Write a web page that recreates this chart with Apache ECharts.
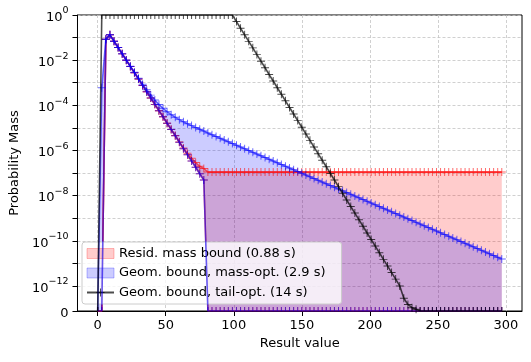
<!DOCTYPE html>
<html>
<head>
<meta charset="utf-8">
<script src="https://cdn.jsdelivr.net/npm/echarts@6/dist/echarts.min.js"></script>
<style>
  html, body { margin: 0; padding: 0; background: #fff; }
  #chart { width: 531px; height: 362px; }
</style>
</head>
<body>
<div id="chart"></div>
<script>
// result values (x), one point every 3 units
const resultValues = [0, 3, 6, 9, 12, 15, 18, 21, 24, 27, 30, 33, 36, 39, 42, 45, 48, 51, 54, 57,
  60, 63, 66, 69, 72, 75, 78, 81, 84, 87, 90, 93, 96, 99, 102, 105, 108, 111, 114, 117,
  120, 123, 126, 129, 132, 135, 138, 141, 144, 147, 150, 153, 156, 159, 162, 165, 168, 171, 174, 177,
  180, 183, 186, 189, 192, 195, 198, 201, 204, 207, 210, 213, 216, 219, 222, 225, 228, 231, 234, 237,
  240, 243, 246, 249, 252, 255, 258, 261, 264, 267, 270, 273, 276, 279, 282, 285, 288, 291, 294, 297]

// shared lower bound of both bounds
const lowerBound = [0, 0, 0.084, 0.132, 0.069, 0.036, 0.019, 0.0100, 0.0052, 0.00275,
  0.00145, 7.6e-4, 4.0e-4, 2.1e-4, 1.1e-4, 5.8e-5, 3.1e-5, 1.6e-5, 8.5e-6, 4.5e-6,
  2.3e-6, 1.2e-6, 6.4e-7, 3.4e-7, 1.8e-7, 9.3e-8, 4.9e-8, 0, 0, 0,
  0, 0, 0, 0, 0, 0, 0, 0, 0, 0,
  0, 0, 0, 0, 0, 0, 0, 0, 0, 0,
  0, 0, 0, 0, 0, 0, 0, 0, 0, 0,
  0, 0, 0, 0, 0, 0, 0, 0, 0, 0,
  0, 0, 0, 0, 0, 0, 0, 0, 0, 0,
  0, 0, 0, 0, 0, 0, 0, 0, 0, 0,
  0, 0, 0, 0, 0, 0, 0, 0, 0, 0]

// Resid. mass bound, upper
const residUpper = [0, 0, 0.084, 0.132, 0.069, 0.036, 0.019, 0.0100, 0.0052, 0.00275,
  0.00145, 7.6e-4, 4.0e-4, 2.1e-4, 1.1e-4, 5.8e-5, 3.1e-5, 1.6e-5, 8.6e-6, 4.6e-6,
  2.4e-6, 1.3e-6, 7.5e-7, 4.5e-7, 2.9e-7, 2.0e-7, 1.6e-7, 1.1e-7, 1.1e-7, 1.1e-7,
  1.1e-7, 1.1e-7, 1.1e-7, 1.1e-7, 1.1e-7, 1.1e-7, 1.1e-7, 1.1e-7, 1.1e-7, 1.1e-7,
  1.1e-7, 1.1e-7, 1.1e-7, 1.1e-7, 1.1e-7, 1.1e-7, 1.1e-7, 1.1e-7, 1.1e-7, 1.1e-7,
  1.1e-7, 1.1e-7, 1.1e-7, 1.1e-7, 1.1e-7, 1.1e-7, 1.1e-7, 1.1e-7, 1.1e-7, 1.1e-7,
  1.1e-7, 1.1e-7, 1.1e-7, 1.1e-7, 1.1e-7, 1.1e-7, 1.1e-7, 1.1e-7, 1.1e-7, 1.1e-7,
  1.1e-7, 1.1e-7, 1.1e-7, 1.1e-7, 1.1e-7, 1.1e-7, 1.1e-7, 1.1e-7, 1.1e-7, 1.1e-7,
  1.1e-7, 1.1e-7, 1.1e-7, 1.1e-7, 1.1e-7, 1.1e-7, 1.1e-7, 1.1e-7, 1.1e-7, 1.1e-7,
  1.1e-7, 1.1e-7, 1.1e-7, 1.1e-7, 1.1e-7, 1.1e-7, 1.1e-7, 1.1e-7, 1.1e-7, 1.1e-7]

// Geom. bound, mass-opt., upper
const massOptUpper = [0, 6e-4, 0.085, 0.1325, 0.0694, 0.0363, 0.0193, 0.0102, 5.4e-3, 2.9e-3,
  1.58e-3, 8.6e-4, 4.9e-4, 2.83e-4, 1.71e-4, 1.09e-4, 7.4e-5, 5.2e-5, 3.84e-5, 2.95e-5,
  2.32e-5, 1.87e-5, 1.53e-5, 1.26e-5, 1.04e-5, 8.65e-6, 7.2e-6, 5.98e-6, 5.0e-6, 4.19e-6,
  3.5e-6, 2.93e-6, 2.45e-6, 2.05e-6, 1.71e-6, 1.43e-6, 1.2e-6, 1.0e-6, 8.4e-7, 7.0e-7,
  5.87e-7, 4.91e-7, 4.10e-7, 3.43e-7, 2.87e-7, 2.40e-7, 2.01e-7, 1.68e-7, 1.41e-7, 1.17e-7,
  9.82e-8, 8.2e-8, 6.87e-8, 5.75e-8, 4.81e-8, 4.02e-8, 3.36e-8, 2.81e-8, 2.35e-8, 1.97e-8,
  1.64e-8, 1.38e-8, 1.15e-8, 9.6e-9, 8.05e-9, 6.74e-9, 5.64e-9, 4.71e-9, 3.94e-9, 3.30e-9,
  2.76e-9, 2.31e-9, 1.93e-9, 1.61e-9, 1.35e-9, 1.13e-9, 9.44e-10, 7.89e-10, 6.6e-10, 5.52e-10,
  4.62e-10, 3.86e-10, 3.23e-10, 2.70e-10, 2.26e-10, 1.89e-10, 1.58e-10, 1.32e-10, 1.106e-10, 9.25e-11,
  7.73e-11, 6.47e-11, 5.41e-11, 4.53e-11, 3.78e-11, 3.16e-11, 2.65e-11, 2.21e-11, 1.85e-11, 1.55e-11]

// Geom. bound, tail-opt.
const tailOptUpper = [0, 1, 1, 1, 1, 1, 1, 1, 1, 1,
  1, 1, 1, 1, 1, 1, 1, 1, 1, 1,
  1, 1, 1, 1, 1, 1, 1, 1, 1, 1,
  1, 1, 1, 1, 0.51, 0.26, 0.132, 0.068, 0.035, 0.0176,
  0.0090, 0.0046, 0.0023, 1.19e-3, 6.0e-4, 3.1e-4, 1.58e-4, 8.0e-5, 4.1e-5, 2.1e-5,
  1.07e-5, 5.4e-6, 2.8e-6, 1.41e-6, 7.2e-7, 3.7e-7, 1.9e-7, 9.5e-8, 4.9e-8, 2.5e-8,
  1.26e-8, 6.4e-9, 3.3e-9, 1.68e-9, 8.6e-10, 4.4e-10, 2.2e-10, 1.14e-10, 5.8e-11, 2.95e-11,
  1.5e-11, 7.7e-12, 3.9e-12, 2.0e-12, 1.0e-12, 5.1e-13, 2.6e-13, 1.3e-13, 6.9e-14, 0,
  0, 0, 0, 0, 0, 0, 0, 0, 0, 0,
  0, 0, 0, 0, 0, 0, 0, 0, 0, 0]

const seriesNames = ['Resid. mass bound (0.88 s)', 'Geom. bound, mass-opt. (2.9 s)', 'Geom. bound, tail-opt. (14 s)']
const yGridExponents = [0, -1, -2, -3, -4, -5, -6, -7, -8, -9, -10, -11, -12]
const yLabelExponents = [0, -2, -4, -6, -8, -10, -12]
const xTickValues = [0, 50, 100, 150, 200, 250, 300]

// symlog scale like matplotlib (linthresh 1e-12, linscale 1)
const LINTHRESH = 1e-12
const LINSCALE = 1 / (1 - 1 / 10)
function symlog(v) {
  if (v <= LINTHRESH) return v / LINTHRESH * LINSCALE
  return LINSCALE + Math.log10(v / LINTHRESH)
}

const FONT = 'DejaVu Sans'
const PLUS = 'path://M4.4,0 H5.6 V4.4 H10 V5.6 H5.6 V10 H4.4 V5.6 H0 V4.4 H4.4 Z'
const BAR = 'path://M0,0 H1 V10 H0 Z'

// filled band between lower and upper, drawn as one polygon via the axis scales
function bandSeries(name, lower, upper, fill) {
  return {
    name: name,
    type: 'custom',
    data: [[resultValues[0], 0]],
    itemStyle: { color: fill },
    silent: true,
    z: 1,
    renderItem: function (params, api) {
      if (params.dataIndex !== 0) return
      const pts = []
      for (let i = 0; i < resultValues.length; i++) {
        pts.push(api.coord([resultValues[i], symlog(upper[i])]))
      }
      for (let i = resultValues.length - 1; i >= 0; i--) {
        pts.push(api.coord([resultValues[i], symlog(lower[i])]))
      }
      return {
        type: 'polygon',
        shape: { points: pts },
        style: { fill: fill, stroke: null }
      }
    }
  }
}

// markers sitting on the plot edge are cut in half, as in the original
function markerLine(name, values, color, z) {
  return {
    name: name,
    type: 'line',
    data: resultValues.map((x, i) => {
      const v = values[i]
      const item = { value: [x, symlog(v)] }
      if (v <= 0) {
        item.symbol = BAR
        item.symbolSize = [1, 4]
        item.symbolOffset = [0, -2]
      } else if (v >= 1) {
        item.symbol = BAR
        item.symbolSize = [1, 4]
        item.symbolOffset = [0, 2]
      }
      return item
    }),
    symbol: PLUS,
    symbolSize: 8,
    showSymbol: true,
    showAllSymbol: true,
    lineStyle: { color: color, width: 1.6 },
    itemStyle: { color: color },
    silent: true,
    z: z
  }
}

const chart = echarts.init(document.getElementById('chart'))
chart.setOption({
  animation: false,
  grid: {
    left: 74, right: 9, top: 15, bottom: 51,
    show: true, borderColor: '#000', borderWidth: 1, backgroundColor: 'transparent'
  },
  legend: {
    orient: 'vertical',
    left: 82,
    top: 242,
    padding: [4, 16, 4, 4],
    itemWidth: 27,
    itemHeight: 10,
    itemGap: 4.5,
    itemTextGap: 11,
    selectedMode: false,
    backgroundColor: 'rgba(255,255,255,0.8)',
    borderColor: '#cccccc',
    borderWidth: 1,
    borderRadius: 3,
    textStyle: { fontFamily: FONT, fontSize: 13, color: '#000', lineHeight: 15 },
    data: [
      { name: seriesNames[0], icon: 'rect', itemStyle: { color: 'rgba(255,0,0,0.2)', borderColor: 'rgba(255,0,0,0.25)', borderWidth: 1 } },
      { name: seriesNames[1], icon: 'rect', itemStyle: { color: 'rgba(0,0,255,0.2)', borderColor: 'rgba(0,0,255,0.25)', borderWidth: 1 } },
      { name: seriesNames[2] }
    ]
  },
  xAxis: {
    type: 'value',
    min: -14.85,
    max: 311.85,
    name: 'Result value',
    nameLocation: 'middle',
    nameGap: 26,
    nameTextStyle: { fontFamily: FONT, fontSize: 13, color: '#000' },
    axisLine: { show: true, onZero: false, lineStyle: { color: '#000', width: 1 } },
    axisTick: { show: true, length: 5, customValues: xTickValues, lineStyle: { color: '#000' } },
    axisLabel: { customValues: xTickValues, margin: 8, fontFamily: FONT, fontSize: 13, color: '#000' },
    splitLine: { show: true, lineStyle: { color: '#c4c4c4', type: [3, 2], width: 0.8 } }
  },
  yAxis: {
    type: 'value',
    min: 0,
    max: symlog(1),
    name: 'Probability Mass',
    nameLocation: 'middle',
    nameGap: 48,
    nameTextStyle: { fontFamily: FONT, fontSize: 13, color: '#000' },
    axisLine: { show: true, onZero: false, lineStyle: { color: '#000', width: 1 } },
    axisTick: {
      show: true, length: 5,
      customValues: [0].concat(yGridExponents.map(e => symlog(Math.pow(10, e)))),
      lineStyle: { color: '#000' }
    },
    axisLabel: {
      customValues: [0].concat(yLabelExponents.map(e => symlog(Math.pow(10, e)))),
      margin: 9,
      formatter: function (v) {
        if (v === 0) return '{b|0}'
        const e = Math.round(v - LINSCALE) - 12
        return '{b|10}{s|' + (e < 0 ? '\u2212' + (-e) : e) + '}'
      },
      rich: {
        b: { fontFamily: FONT, fontSize: 13, color: '#000', lineHeight: 18, verticalAlign: 'bottom' },
        s: { fontFamily: FONT, fontSize: 9.5, color: '#000', lineHeight: 10, verticalAlign: 'top' }
      }
    },
    splitLine: { show: true, lineStyle: { color: '#c4c4c4', type: [3, 2], width: 0.8 } }
  },
  series: [
    bandSeries(seriesNames[0], lowerBound, residUpper, 'rgba(255,0,0,0.2)'),
    bandSeries(seriesNames[1], lowerBound, massOptUpper, 'rgba(0,0,255,0.2)'),
    markerLine('resid-upper', residUpper, 'rgba(255,0,0,0.6)', 3),
    markerLine('resid-lower', lowerBound, 'rgba(255,0,0,0.6)', 3),
    markerLine('massopt-upper', massOptUpper, 'rgba(0,0,255,0.6)', 4),
    markerLine('massopt-lower', lowerBound, 'rgba(0,0,255,0.6)', 4),
    markerLine(seriesNames[2], tailOptUpper, 'rgba(0,0,0,0.7)', 5)
  ]
})
</script>
</body>
</html>
